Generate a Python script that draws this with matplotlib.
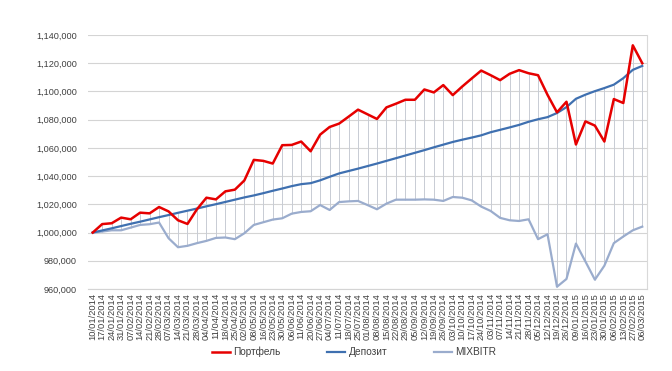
import matplotlib
matplotlib.use("Agg")
import matplotlib.pyplot as plt
from matplotlib.ticker import FuncFormatter

plt.rcParams['font.family'] = ['Liberation Sans', 'DejaVu Sans']

# weekly dates (as printed on the category axis)
dates = ["10/01/2014", "17/01/2014", "24/01/2014", "31/01/2014", "07/02/2014", "14/02/2014",
         "21/02/2014", "28/02/2014", "07/03/2014", "14/03/2014", "21/03/2014", "28/03/2014",
         "04/04/2014", "11/04/2014", "18/04/2014", "25/04/2014", "02/05/2014", "08/05/2014",
         "16/05/2014", "23/05/2014", "30/05/2014", "06/06/2014", "11/06/2014", "20/06/2014",
         "27/06/2014", "04/07/2014", "11/07/2014", "18/07/2014", "25/07/2014", "01/08/2014",
         "08/08/2014", "15/08/2014", "22/08/2014", "29/08/2014", "05/09/2014", "12/09/2014",
         "19/09/2014", "26/09/2014", "03/10/2014", "10/10/2014", "17/10/2014", "24/10/2014",
         "03/11/2014", "07/11/2014", "14/11/2014", "21/11/2014", "28/11/2014", "05/12/2014",
         "12/12/2014", "19/12/2014", "26/12/2014", "09/01/2015", "16/01/2015", "23/01/2015",
         "30/01/2015", "06/02/2015", "13/02/2015", "27/02/2015", "06/03/2015"]

portfolio = [1000000, 1006000, 1006600, 1010600, 1009400, 1014100, 1013600, 1018100, 1015000,
             1008700, 1006100, 1016500, 1024700, 1023500, 1029200, 1030400, 1036900, 1051500,
             1050800, 1048900, 1061900, 1062100, 1064500, 1057600, 1069400, 1074800, 1077200,
             1082100, 1087100, 1083800, 1080500, 1088700, 1091300, 1094100, 1094100, 1101400,
             1099300, 1104500, 1097400, 1103500, 1109200, 1114800, 1111500, 1108000, 1112500,
             1115100, 1112900, 1111500, 1097600, 1085200, 1092700, 1062400, 1078800, 1075800,
             1064500, 1094600, 1091800, 1132700, 1120000]

deposit = [1000000, 1001500, 1003000, 1004600, 1006200, 1007700, 1009300, 1010900, 1012400,
           1014000, 1015500, 1017000, 1018600, 1020100, 1021700, 1023300, 1024900, 1026300,
           1027900, 1029600, 1031200, 1032900, 1034300, 1035000, 1037000, 1039500, 1041900,
           1043600, 1045300, 1047100, 1048900, 1050800, 1052700, 1054600, 1056500, 1058400,
           1060400, 1062300, 1064200, 1065800, 1067300, 1068900, 1071100, 1072800, 1074500,
           1076300, 1078500, 1080300, 1081800, 1084700, 1088900, 1094800, 1097700, 1100200,
           1102400, 1104800, 1109400, 1115300, 1118100]

mixbitr = [1000000, 1000700, 1001600, 1001600, 1003500, 1005400, 1005900, 1007100, 996000,
           989600, 990600, 992500, 994100, 996200, 996500, 995300, 999500, 1005400,
           1007300, 1009200, 1010100, 1013400, 1014600, 1015100, 1019500, 1016000, 1021600,
           1022100, 1022400, 1019500, 1016500, 1020500, 1023300, 1023300, 1023300, 1023500,
           1023300, 1022400, 1025200, 1024700, 1022800, 1018400, 1015300, 1010400, 1008700,
           1008200, 1009400, 995300, 998800, 961600, 967100, 992200, 979500, 966600,
           976500, 992500, 997200, 1001600, 1004200]

x = list(range(len(dates)))
hi = [max(a, b, c) for a, b, c in zip(portfolio, deposit, mixbitr)]
lo = [min(a, b, c) for a, b, c in zip(portfolio, deposit, mixbitr)]

fig = plt.figure(figsize=(6.72, 3.71), dpi=100)
ax = fig.add_axes([88 / 672, 1 - 289 / 371, (647 - 88) / 672, (289 - 35) / 371])

# high-low lines
ax.vlines(x, lo, hi, color="#c8ccd4", linewidth=0.7, zorder=1)

ax.plot(x, portfolio, color="#e60000", linewidth=1.8, label="Портфель", zorder=4)
ax.plot(x, deposit, color="#3f70b0", linewidth=1.6, label="Депозит", zorder=3)
ax.plot(x, mixbitr, color="#9aaccd", linewidth=1.6, label="MIXBITR", zorder=2)

ax.set_xlim(-0.5, len(dates) - 0.5)
ax.set_ylim(960000, 1140000)
ax.set_yticks(range(960000, 1140001, 20000))
ax.yaxis.set_major_formatter(FuncFormatter(lambda v, p: f"{int(v):,}"))
ax.grid(axis="y", color="#d4d4d4", linewidth=0.8)
ax.set_axisbelow(True)

ax.set_xticks(x)
ax.set_xticklabels(dates, rotation=90, fontsize=6.7, color="#404040")
ax.tick_params(axis="x", length=0, pad=3)
ax.tick_params(axis="y", length=0, pad=8, labelsize=6.6, labelcolor="#404040")

for side in ["top", "left"]:
    ax.spines[side].set_visible(False)
ax.spines["bottom"].set_color("#d4d4d4")
ax.spines["right"].set_color("#d9d9d9")
ax.spines["right"].set_linewidth(0.8)

fig.legend(loc="center", bbox_to_anchor=(354 / 672, 19 / 371), ncol=3, frameon=False,
           fontsize=7.3, handlelength=1.8, handletextpad=0.3, columnspacing=4.6,
           labelcolor="#404040")

fig.savefig("out.png", dpi=100)
